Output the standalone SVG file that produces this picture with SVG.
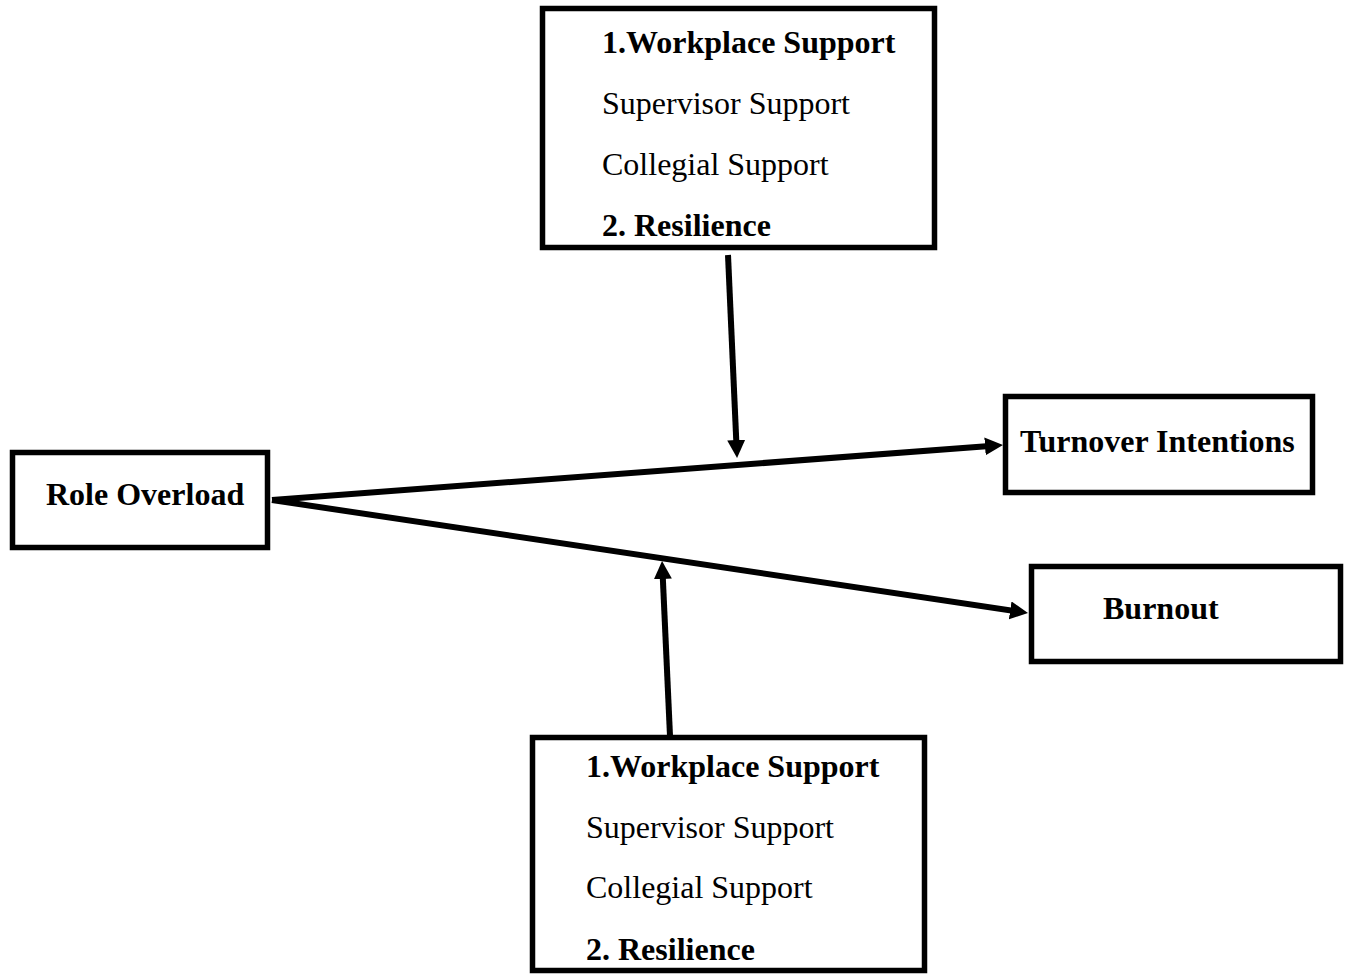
<svg xmlns="http://www.w3.org/2000/svg" width="1349" height="976" viewBox="0 0 1349 976">
<style>
.box{fill:#fff;stroke:#000;stroke-width:5.5}
.t{font-family:"Liberation Serif","Times New Roman",serif;font-size:32px;fill:#000}
.b{font-weight:bold}
.c{stroke:#000;stroke-width:6;fill:none;marker-end:url(#ah)}
</style>
<defs>
<marker id="ah" markerUnits="userSpaceOnUse" markerWidth="19" markerHeight="19" refX="8" refY="9" orient="auto">
<path d="M0,0 L18,9 L0,18 z" fill="#000"/>
</marker>
</defs>
<rect width="1349" height="976" fill="#fff"/>
<g id="connectors">
<line class="c" x1="272" y1="500" x2="993" y2="445.75"/>
<line class="c" x1="272" y1="500" x2="1018.1" y2="611.5"/>
<line class="c" x1="728" y1="255" x2="736.6" y2="448"/>
<line class="c" x1="670" y1="736" x2="662.5" y2="571"/>
</g>
<g id="moderator-top">
<rect class="box" x="542.5" y="8.5" width="392" height="239"/>
<text class="t b" x="602" y="53">1.Workplace Support</text>
<text class="t" x="602" y="114">Supervisor Support</text>
<text class="t" x="602" y="175">Collegial Support</text>
<text class="t b" x="602" y="236">2. Resilience</text>
</g>
<g id="role-overload">
<rect class="box" x="12.5" y="452.5" width="255" height="95"/>
<text class="t b" x="46" y="505">Role Overload</text>
</g>
<g id="turnover-intentions">
<rect class="box" x="1005.5" y="396.5" width="307" height="96"/>
<text class="t b" x="1020" y="452">Turnover Intentions</text>
</g>
<g id="burnout">
<rect class="box" x="1031.5" y="566.5" width="309" height="95"/>
<text class="t b" x="1103" y="619">Burnout</text>
</g>
<g id="moderator-bottom">
<rect class="box" x="532.5" y="737.5" width="392" height="233"/>
<text class="t b" x="586" y="777">1.Workplace Support</text>
<text class="t" x="586" y="838">Supervisor Support</text>
<text class="t" x="586" y="898">Collegial Support</text>
<text class="t b" x="586" y="960">2. Resilience</text>
</g>
</svg>
